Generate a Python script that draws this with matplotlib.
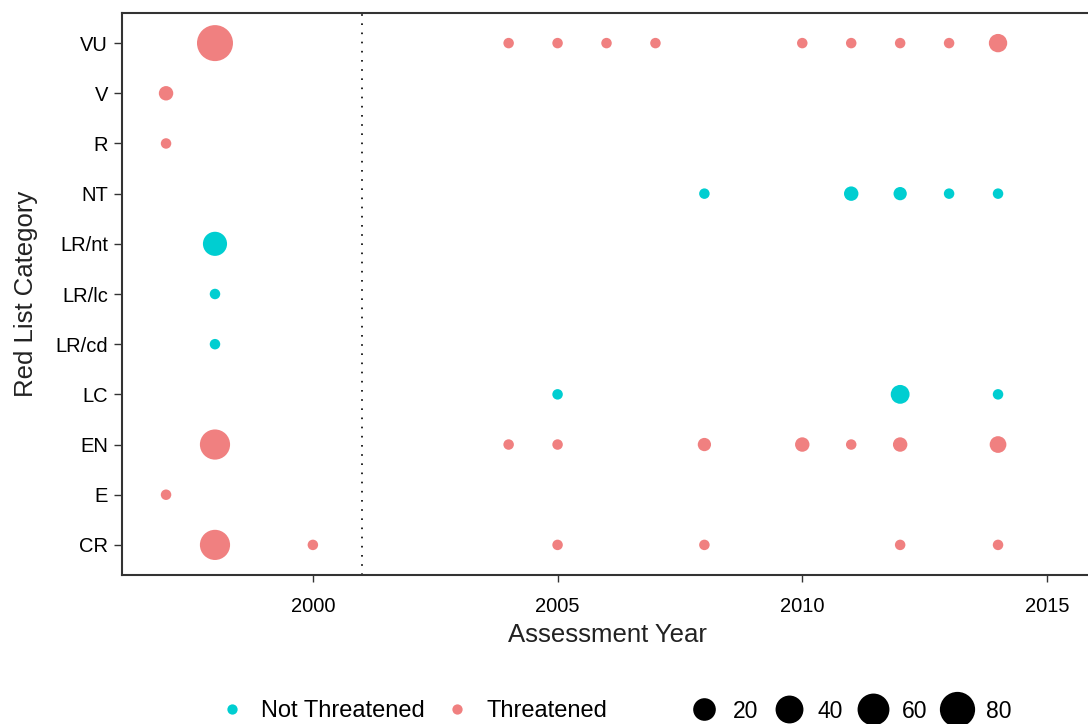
import numpy as np
import matplotlib
matplotlib.use("Agg")
import matplotlib.pyplot as plt
from matplotlib.lines import Line2D

plt.rcParams["font.family"] = ["Liberation Sans", "DejaVu Sans"]

# red list categories, bottom to top
categories = ["CR", "E", "EN", "LC", "LR/cd", "LR/lc", "LR/nt", "NT", "R", "V", "VU"]

# one entry per point
point_cat = (["VU"] * 10 + ["V", "R"] + ["NT"] * 5 + ["LR/nt", "LR/lc", "LR/cd"]
             + ["LC"] * 3 + ["EN"] * 8 + ["E"] + ["CR"] * 6)
point_year = ([1998, 2004, 2005, 2006, 2007, 2010, 2011, 2012, 2013, 2014]
              + [1997, 1997]
              + [2008, 2011, 2012, 2013, 2014]
              + [1998, 1998, 1998]
              + [2005, 2012, 2014]
              + [1998, 2004, 2005, 2008, 2010, 2011, 2012, 2014]
              + [1997]
              + [1998, 2000, 2005, 2008, 2012, 2014])
point_count = ([85, 1, 1, 1, 1, 1, 1, 1, 1, 9]
               + [3, 1]
               + [1, 3, 2, 1, 1]
               + [25, 1, 1]
               + [1, 10, 1]
               + [51, 1, 1, 2, 3, 1, 3, 6]
               + [1]
               + [51, 1, 1, 1, 1, 1])
threatened_cats = ["CR", "E", "EN", "R", "V", "VU"]

size_breaks = [20, 40, 60, 80]
status_labels = ["Not Threatened", "Threatened"]
status_colors = {"Not Threatened": "#00CED1", "Threatened": "#F08080"}
cutoff_year = 2001

counts = np.array(point_count, dtype=float)
cmin, cmax = counts.min(), counts.max()


def diam_pt(n):
    # ggplot-like area scale: diameter ~ sqrt of rescaled value
    px = 10.5 + 25.5 * np.sqrt((np.asarray(n, float) - cmin) / (cmax - cmin))
    return px * 0.72


W, H = 1088, 724
fig = plt.figure(figsize=(W / 100, H / 100), dpi=100)
left, right, top, bottom = 122, 1092, 13, 575
ax = fig.add_axes([left / W, 1 - bottom / H, (right - left) / W, (bottom - top) / H])

ypos = np.array([categories.index(c) for c in point_cat])
status = ["Threatened" if c in threatened_cats else "Not Threatened" for c in point_cat]
cols = [status_colors[s] for s in status]
ax.scatter(point_year, ypos, s=diam_pt(counts) ** 2, c=cols, linewidths=0, zorder=3)

ax.axvline(cutoff_year, color="black", linestyle=(0, (1, 4.5)), linewidth=1.2, zorder=2)

ax.set_xlim(1996.1, 2015.92)
ax.set_ylim(-0.6, len(categories) - 0.4)
ax.set_xticks([2000, 2005, 2010, 2015])
ax.set_yticks(range(len(categories)))
ax.set_yticklabels(categories)

for sp in ax.spines.values():
    sp.set_color("#333333")
    sp.set_linewidth(1.5)
ax.tick_params(axis="y", length=6, width=1, color="#333333", labelsize=14.5,
               labelcolor="black", pad=4)
ax.tick_params(axis="x", length=5, width=1, color="#333333", labelsize=14.5,
               labelcolor="black", pad=11)

ax.set_xlabel("Assessment Year", fontsize=18.5, color="#222222", labelpad=5)
ax.set_ylabel("Red List Category", fontsize=18.5, color="#222222")
ax.yaxis.set_label_coords(-(left - 38) / (right - left), 0.5)

# colour legend
col_handles = [Line2D([], [], marker="o", linestyle="", markersize=7.4,
                      markerfacecolor=status_colors[s], markeredgewidth=0)
               for s in status_labels]
fig.legend(col_handles, status_labels, loc="center left",
           bbox_to_anchor=(220 / W, 1 - 711 / H), ncol=2, frameon=False,
           fontsize=17, handlelength=1.0, handletextpad=0.75,
           columnspacing=0.85, borderpad=0, borderaxespad=0)

# size legend
size_handles = [Line2D([], [], marker="o", linestyle="", markersize=float(diam_pt(b)),
                       markerfacecolor="black", markeredgewidth=0)
                for b in size_breaks]
fig.legend(size_handles, [str(b) for b in size_breaks], loc="center left",
           bbox_to_anchor=(693 / W, 1 - 711 / H), ncol=4, frameon=False,
           fontsize=16.5, handlelength=1.0, handletextpad=0.75,
           columnspacing=0.82, borderpad=0, borderaxespad=0)

fig.savefig("out.png", dpi=100)
